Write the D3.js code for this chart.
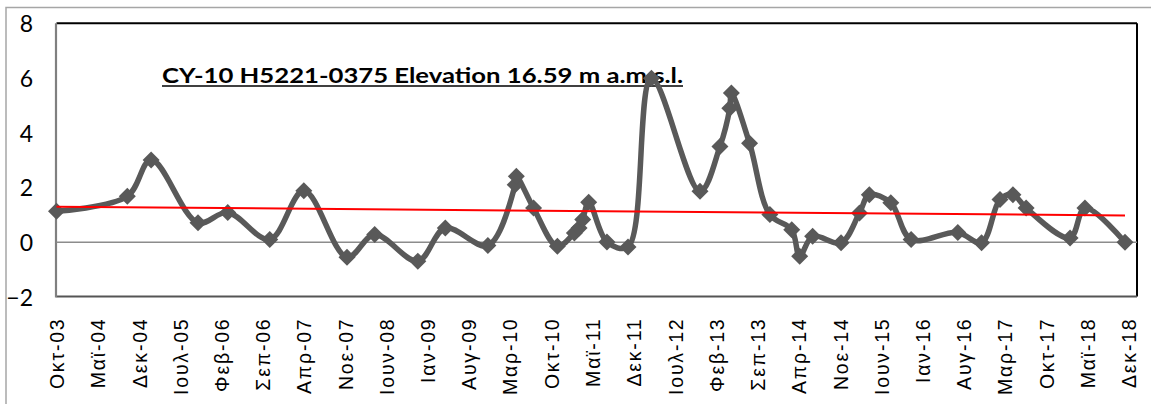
<!DOCTYPE html>
<html>
<head>
<meta charset="utf-8">
<script src="https://cdn.jsdelivr.net/npm/d3@7"></script>
<style>
  html, body { margin: 0; padding: 0; background: #fff; }
  svg { display: block; }
  svg text.xlab { font-family: 'Liberation Sans', Arial, sans-serif; font-size: 19.5px; letter-spacing: 1.8px; fill: #000; }
  svg text.ylab { font-family: Lato, sans-serif; font-size: 23px; fill: #000; }
  svg text.title { font-family: Lato, sans-serif; font-size: 21px; font-weight: bold; fill: #000; }
</style>
</head>
<body>
<svg id="chart" width="1156" height="404"></svg>
<script>
// ---- data ----
const titleText = "CY-10 H5221-0375 Elevation 16.59 m a.m.s.l.";

const sampleDates = [
  "2003-10-01","2004-10-01","2005-02-01","2005-10-01","2006-03-04","2006-10-07",
  "2007-04-01","2007-11-10","2008-04-01","2008-11-10","2009-04-01","2009-11-07",
  "2010-03-28","2010-04-03","2010-07-01","2010-11-01","2011-01-28","2011-02-21",
  "2011-03-12","2011-04-12","2011-07-15","2011-11-01","2012-03-01","2012-11-07",
  "2013-02-18","2013-04-10","2013-04-18","2013-07-21","2013-11-03","2014-02-24",
  "2014-04-06","2014-06-12","2014-11-06","2015-02-09","2015-04-01","2015-07-21",
  "2015-11-03","2016-07-01","2016-11-01","2017-02-04","2017-04-12","2017-06-19",
  "2018-02-01","2018-04-19","2018-11-12"
];
const waterLevels = [
  1.13, 1.68, 3.01, 0.71, 1.09, 0.10,
  1.88, -0.55, 0.28, -0.69, 0.52, -0.12,
  2.10, 2.41, 1.25, -0.15, 0.34, 0.52,
  0.83, 1.46, 0.01, -0.17, 5.99, 1.86,
  3.50, 4.90, 5.45, 3.62, 1.01, 0.46,
  -0.51, 0.22, -0.02, 1.07, 1.74, 1.44,
  0.10, 0.36, -0.02, 1.56, 1.74, 1.25,
  0.16, 1.25, 0.00
];
// linear trend line end values
const trendValues = [1.30, 0.98];

const tickLabels = [
  "Οκτ-03","Μαϊ-04","Δεκ-04","Ιουλ-05","Φεβ-06","Σεπ-06","Απρ-07","Νοε-07","Ιουν-08",
  "Ιαν-09","Αυγ-09","Μαρ-10","Οκτ-10","Μαϊ-11","Δεκ-11","Ιουλ-12","Φεβ-13","Σεπ-13",
  "Απρ-14","Νοε-14","Ιουν-15","Ιαν-16","Αυγ-16","Μαρ-17","Οκτ-17","Μαϊ-18","Δεκ-18"
];
const yTicks = [-2, 0, 2, 4, 6, 8];

// ---- layout ----
const parse = d3.timeParse("%Y-%m-%d");
const axisStart = parse("2003-10-01");
const axisEnd = parse("2019-01-13");
const plot = { left: 56.5, top: 23.3, right: 1137, bottom: 296.5 };

const x = d3.scaleTime().domain([axisStart, axisEnd]).range([plot.left, plot.right]);
const y = d3.scaleLinear().domain([-2, 8]).range([297, 23.3]);

const points = sampleDates.map((d, i) => ({ date: parse(d), v: waterLevels[i] }));
const tickDates = tickLabels.map((_, i) => d3.timeMonth.offset(axisStart, 7 * i));

const svg = d3.select("#chart");
const grey = "#595959";

// outer chart border (top + left visible)
svg.append("path")
  .attr("d", "M6,404 L6,7.5 L1151,7.5")
  .attr("fill", "none").attr("stroke", "#a6a6a6").attr("stroke-width", 1.5);

// plot frame
svg.append("line").attr("x1", plot.left).attr("x2", plot.right).attr("y1", plot.top).attr("y2", plot.top)
  .attr("stroke", "#000").attr("stroke-width", 2);
svg.append("line").attr("x1", plot.right).attr("x2", plot.right).attr("y1", plot.top).attr("y2", plot.bottom)
  .attr("stroke", "#000").attr("stroke-width", 2);
svg.append("line").attr("x1", plot.left).attr("x2", plot.right).attr("y1", plot.bottom).attr("y2", plot.bottom)
  .attr("stroke", "#555").attr("stroke-width", 2);
svg.append("line").attr("x1", plot.left - 0.5).attr("x2", plot.left - 0.5).attr("y1", plot.top).attr("y2", plot.bottom + 1)
  .attr("stroke", "#808080").attr("stroke-width", 2.2);

// zero axis line
svg.append("line").attr("x1", plot.left).attr("x2", plot.right).attr("y1", y(0)).attr("y2", y(0))
  .attr("stroke", "#8c8c8c").attr("stroke-width", 1.6);

// y axis labels
const yAxis = svg.append("g").attr("transform", "translate(33,0)")
  .call(d3.axisLeft(y).tickValues(yTicks).tickSize(0).tickPadding(0).tickFormat(d3.format("d")));
yAxis.select(".domain").remove();
yAxis.selectAll("text").attr("class", "ylab").attr("fill", null).attr("dy", "0.36em");

// x axis labels (rotated)
const xAxis = svg.append("g").attr("transform", `translate(0,${plot.bottom})`)
  .call(d3.axisBottom(x).tickValues(tickDates).tickSize(0).tickFormat((d, i) => tickLabels[i]));
xAxis.select(".domain").remove();
xAxis.selectAll("text")
  .attr("class", "xlab").attr("fill", null)
  .attr("x", 0).attr("y", 0).attr("dy", "0.36em")
  .attr("text-anchor", "end")
  .attr("transform", "translate(0,21) rotate(-90)");

// title
svg.append("text")
  .attr("class", "title")
  .attr("x", 162).attr("y", 83)
  .attr("textLength", 521).attr("lengthAdjust", "spacingAndGlyphs")
  .text(titleText);
svg.append("line").attr("x1", 162).attr("x2", 683).attr("y1", 86).attr("y2", 86)
  .attr("stroke", "#000").attr("stroke-width", 1.6);

// series line (smoothed)
const line = d3.line().x(d => x(d.date)).y(d => y(d.v)).curve(d3.curveCatmullRom.alpha(0.5));
svg.append("path").datum(points)
  .attr("d", line)
  .attr("fill", "none").attr("stroke", grey).attr("stroke-width", 5.5)
  .attr("stroke-linejoin", "round").attr("stroke-linecap", "round");

// diamond markers
const r = 8.5;
svg.append("g").selectAll("path").data(points).join("path")
  .attr("transform", d => `translate(${x(d.date)},${y(d.v)})`)
  .attr("d", `M0,${-r} L${r},0 L0,${r} L${-r},0 Z`)
  .attr("fill", grey);

// linear trend line (red)
const trendDates = [points[0].date, points[points.length - 1].date];
svg.append("line")
  .attr("x1", x(trendDates[0])).attr("y1", y(trendValues[0]))
  .attr("x2", x(trendDates[1])).attr("y2", y(trendValues[1]))
  .attr("stroke", "#ff0000").attr("stroke-width", 2);
</script>
</body>
</html>
